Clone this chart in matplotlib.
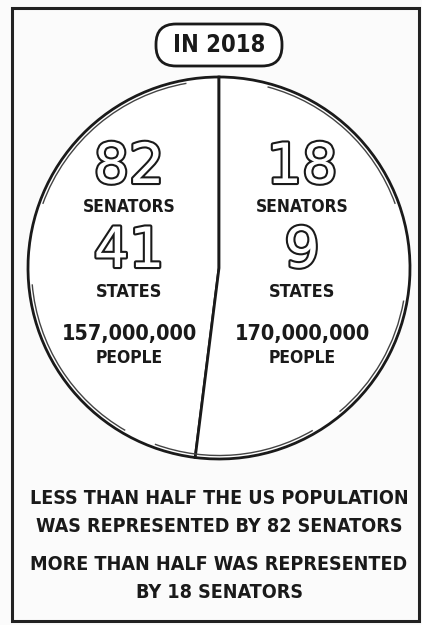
import numpy as np
import matplotlib.pyplot as plt
from matplotlib import patheffects as pe
from matplotlib.patches import FancyBboxPatch, Rectangle, Arc

# data
groups = ["left", "right"]
people = [157, 170]  # millions
senators = [82, 18]
states = [41, 9]
people_labels = ["157,000,000", "170,000,000"]
year = 2018
footer = [
    "LESS THAN HALF THE US POPULATION",
    "WAS REPRESENTED BY 82 SENATORS",
    "MORE THAN HALF WAS REPRESENTED",
    "BY 18 SENATORS",
]

W, H = 422, 625
fig = plt.figure(figsize=(W / 100, H / 100), dpi=100)
ax = fig.add_axes([0, 0, 1, 1])
fig.patch.set_facecolor("#fbfbfb")

font = dict(family="DejaVu Sans", fontstretch="condensed", weight="bold", color="#1a1a1a")


def py(y):
    # pixel row -> data y
    return H - y


# pie
cx, cy, r = 219, py(268), 191
ax.pie(people, startangle=90, counterclock=True, center=(cx, cy), radius=r,
       colors=["white", "white"], frame=True,
       wedgeprops=dict(edgecolor="#1a1a1a", linewidth=2))
ax.set_xlim(0, W)
ax.set_ylim(0, H)
ax.set_aspect("equal")
ax.axis("off")

# frame
ax.add_patch(Rectangle((12, py(621)), 407, 613, fill=False, lw=2.2, ec="#222"))

# sketchy second rim
for t1, t2 in [(20, 75), (100, 160), (185, 240), (250, 300), (310, 350)]:
    ax.add_patch(Arc((cx, cy), 2 * r - 7, 2 * r - 7, theta1=t1, theta2=t2,
                     lw=1, color="#444"))

# title pill
ax.add_patch(FancyBboxPatch((156, py(66)), 126, 42,
                            boxstyle="round,pad=0,rounding_size=20",
                            fc="white", ec="#1a1a1a", lw=2))
ax.text(219, py(45), f"IN {year}", ha="center", va="center", fontsize=17, **font)

outline = [pe.withStroke(linewidth=3, foreground="#1a1a1a")]
xs = [129, 302]
for i in range(2):
    ax.text(xs[i], py(168), str(senators[i]), ha="center", va="center",
            fontsize=40, family="DejaVu Sans", color="white", path_effects=outline)
    ax.text(xs[i], py(207), "SENATORS", ha="center", va="center", fontsize=12.5, **font)
    ax.text(xs[i], py(252), str(states[i]), ha="center", va="center",
            fontsize=40, family="DejaVu Sans", color="white", path_effects=outline)
    ax.text(xs[i], py(292), "STATES", ha="center", va="center", fontsize=13, **font)
    ax.text(xs[i], py(334), people_labels[i], ha="center", va="center", fontsize=15.5, **font)
    ax.text(xs[i], py(358), "PEOPLE", ha="center", va="center", fontsize=12.5, **font)

for yy, line in zip([498, 527, 564, 593], footer):
    ax.text(219, py(yy), line, ha="center", va="center", fontsize=14.1, **font)

fig.savefig("out.png", dpi=100, facecolor=fig.get_facecolor())
